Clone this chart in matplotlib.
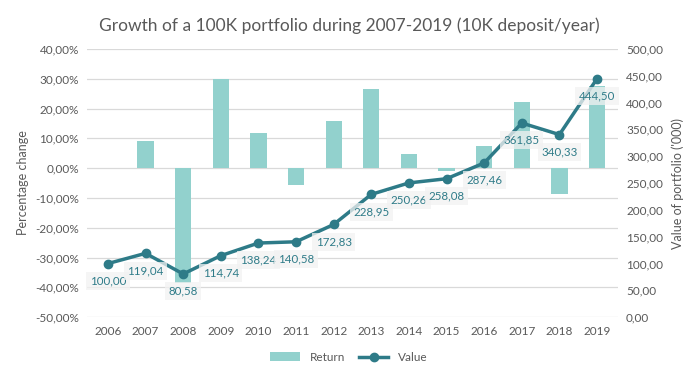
import matplotlib.pyplot as plt
from matplotlib.ticker import FuncFormatter
import numpy as np

years = [2006, 2007, 2008, 2009, 2010, 2011, 2012, 2013, 2014, 2015, 2016, 2017, 2018, 2019]
returns = [0.0, 9.2, -38.5, 29.8, 11.8, -5.6, 15.8, 26.6, 4.7, -0.9, 7.4, 22.2, -8.8, 27.6]
values = [100.00, 119.04, 80.58, 114.74, 138.24, 140.58, 172.83, 228.95, 250.26,
          258.08, 287.46, 361.85, 340.33, 444.50]

BAR_COLOR = '#92d1cd'
LINE_COLOR = '#2e7b88'
TEXT_COLOR = '#595959'

plt.rcParams['font.family'] = ['Lato', 'DejaVu Sans']

def comma(v, nd=2):
	return f"{v:.{nd}f}".replace('.', ',')

fig = plt.figure(figsize=(6.98, 3.79), dpi=100)
ax = fig.add_axes([0.125, 0.163, 0.76, 0.708])
ax2 = ax.twinx()

x = np.arange(len(years))
bars = ax.bar(x, returns, width=0.43, color=BAR_COLOR, label='Return', zorder=2)
ax.set_ylim(-50, 40)
ax.set_yticks(np.arange(-50, 41, 10))
ax.yaxis.set_major_formatter(FuncFormatter(lambda v, p: comma(v) + '%'))
ax.grid(axis='y', color='#d9d9d9', linewidth=0.9, zorder=0)
ax.set_axisbelow(True)
ax.set_xlim(-0.55, len(years) - 0.45)
ax.set_xticks(x)
ax.set_xticklabels([str(y) for y in years])

line, = ax2.plot(x, values, color=LINE_COLOR, linewidth=2.5, marker='o', markersize=6,
				 label='Value', zorder=3)
ax2.set_ylim(0, 500)
ax2.set_yticks(np.arange(0, 501, 50))
ax2.yaxis.set_major_formatter(FuncFormatter(lambda v, p: comma(v)))

for xi, v in zip(x, values):
	ax2.annotate(comma(v), (xi, v), xytext=(0, -12.5), textcoords='offset points',
				 ha='center', va='center', fontsize=8.3, color=LINE_COLOR,
				 bbox=dict(boxstyle='square,pad=0.3', fc='#f2f2f2', ec='none', alpha=0.75),
				 zorder=4)

for a in (ax, ax2):
	for s in a.spines.values():
		s.set_visible(False)
	a.tick_params(length=0, labelsize=8.5, colors=TEXT_COLOR, pad=6)

ax.set_ylabel('Percentage change', color=TEXT_COLOR, fontsize=9, labelpad=4)
ax2.set_ylabel("Value of portfolio ('000)", color=TEXT_COLOR, fontsize=9, labelpad=6)

fig.suptitle('Growth of a 100K portfolio during 2007-2019 (10K deposit/year)',
			 x=0.5, y=0.955, fontsize=12.5, color=TEXT_COLOR)

fig.legend(handles=[bars, line], labels=['Return', 'Value'], loc='lower center',
		   bbox_to_anchor=(0.5, 0.015), ncol=2, frameon=False, fontsize=8.5,
		   labelcolor=TEXT_COLOR, handlelength=2.5, columnspacing=1.2)

fig.savefig('out.png', dpi=100)
